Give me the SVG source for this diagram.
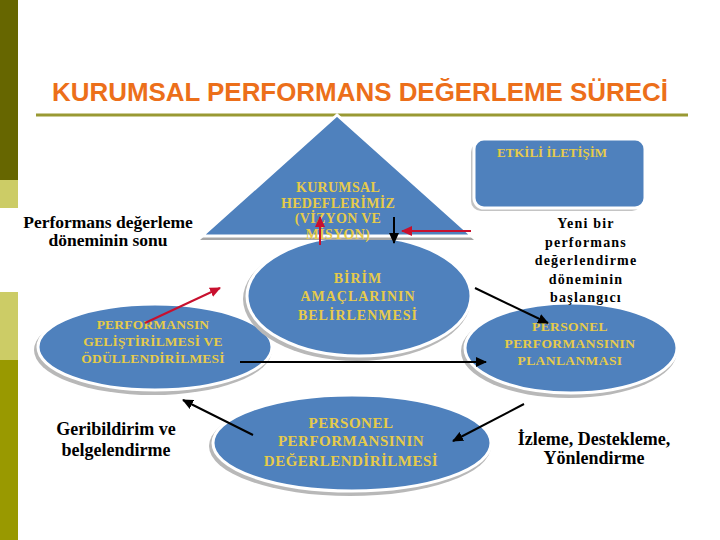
<svg xmlns="http://www.w3.org/2000/svg" width="720" height="540" viewBox="0 0 720 540">
<defs>
<style>
.shape{fill:#4f81bd;stroke:#ffffff;stroke-width:3}
.shadow{fill:#b8b8b8}
.lbl{font-family:"Liberation Serif","Times New Roman",serif;font-weight:bold;fill:#e6cb4a;text-anchor:middle}
.free{font-family:"Liberation Serif","Times New Roman",serif;font-weight:bold;fill:#000000;text-anchor:middle}
.blk{stroke:#000000;stroke-width:2;fill:none}
.red{stroke:#c8102e;stroke-width:2;fill:none}
</style>
<marker id="ahb" markerUnits="userSpaceOnUse" markerWidth="12" markerHeight="10" refX="10" refY="5" orient="auto"><path d="M0,0 L11,5 L0,10 z" fill="#000000"/></marker>
<marker id="ahr" markerUnits="userSpaceOnUse" markerWidth="12" markerHeight="10" refX="10" refY="5" orient="auto"><path d="M0,0 L11,5 L0,10 z" fill="#c8102e"/></marker>
</defs>
<rect width="720" height="540" fill="#ffffff"/>
<g id="sidebar">
<rect x="0" y="0" width="18" height="180" fill="#666600"/>
<rect x="0" y="180" width="18" height="28" fill="#cccc66"/>
<rect x="0" y="292" width="18" height="68" fill="#cccc66"/>
<rect x="0" y="360" width="18" height="180" fill="#999900"/>
</g>
<g id="title">
<text x="52" y="101" font-family="'Liberation Sans',Arial,sans-serif" font-weight="bold" font-size="25" fill="#ec6f1a" textLength="616" lengthAdjust="spacingAndGlyphs">KURUMSAL PERFORMANS DEĞERLEME SÜRECİ</text>
<line x1="36" y1="115" x2="688" y2="115" stroke="#999933" stroke-width="3"/>
</g>
<g id="gelistirme">
<ellipse class="shadow" cx="153" cy="350" rx="119" ry="45"/>
<ellipse class="shape" cx="155" cy="347" rx="117" ry="43"/>
</g>
<g id="planlama">
<ellipse class="shadow" cx="569" cy="351" rx="108" ry="47"/>
<ellipse class="shape" cx="571" cy="348" rx="106" ry="45"/>
</g>
<g id="degerlendirme">
<ellipse class="shadow" cx="350" cy="446" rx="141" ry="50"/>
<ellipse class="shape" cx="352" cy="443" rx="139" ry="48"/>
</g>
<g id="birim">
<ellipse class="shadow" cx="357" cy="299" rx="114" ry="62"/>
<ellipse class="shape" cx="359" cy="296" rx="112" ry="60"/>
</g>
<g id="hedefler">
<polygon points="337,118 200,240 474,240" fill="#a6a6a6"/>
<polygon points="337,115 202,236 472,236" class="shape"/>
</g>
<g id="iletisim">
<rect x="471" y="142" width="171" height="69" rx="10" fill="#c4c4c4"/>
<rect x="474" y="139" width="171" height="69" rx="10" class="shape"/>
</g>
<g id="labels">
<text class="lbl" x="552" y="157" font-size="13">ETKİLİ İLETİŞİM</text>
<text class="lbl" font-size="14" letter-spacing="0.3"><tspan x="338" y="192">KURUMSAL</tspan><tspan x="338" y="208">HEDEFLERİMİZ</tspan><tspan x="338" y="223">(VİZYON VE</tspan><tspan x="338" y="239">MİSYON)</tspan></text>
<text class="lbl" font-size="14" letter-spacing="1"><tspan x="358" y="283">BİRİM</tspan><tspan x="358" y="301">AMAÇLARININ</tspan><tspan x="358" y="320">BELİRLENMESİ</tspan></text>
<text class="lbl" font-size="13.5" letter-spacing="0.2"><tspan x="153" y="329">PERFORMANSIN</tspan><tspan x="153" y="346">GELİŞTİRİLMESİ VE</tspan><tspan x="153" y="363">ÖDÜLLENDİRİLMESİ</tspan></text>
<text class="lbl" font-size="13.5" letter-spacing="0.4"><tspan x="570" y="331">PERSONEL</tspan><tspan x="570" y="348">PERFORMANSININ</tspan><tspan x="570" y="365">PLANLANMASI</tspan></text>
<text class="lbl" font-size="15" letter-spacing="0.5"><tspan x="351" y="428">PERSONEL</tspan><tspan x="351" y="446">PERFORMANSININ</tspan><tspan x="351" y="466">DEĞERLENDİRİLMESİ</tspan></text>
<text class="free" font-size="17.5"><tspan x="108" y="228">Performans değerleme</tspan><tspan x="108" y="246">döneminin sonu</tspan></text>
<text class="free" font-size="18"><tspan x="116" y="435">Geribildirim ve</tspan><tspan x="116" y="456">belgelendirme</tspan></text>
<text class="free" font-size="14" letter-spacing="1.2"><tspan x="586" y="228">Yeni bir</tspan><tspan x="586" y="247">performans</tspan><tspan x="586" y="265">değerlendirme</tspan><tspan x="586" y="284">döneminin</tspan><tspan x="586" y="302">başlangıcı</tspan></text>
<text class="free" font-size="18"><tspan x="594" y="445">İzleme, Destekleme,</tspan><tspan x="594" y="464">Yönlendirme</tspan></text>
</g>
<g id="connectors">
<line class="red" x1="145" y1="323" x2="220" y2="288" marker-end="url(#ahr)"/>
<line class="red" x1="320" y1="245" x2="320" y2="217" marker-end="url(#ahr)"/>
<line class="red" x1="471" y1="231" x2="402" y2="231" marker-end="url(#ahr)"/>
<line class="blk" x1="394" y1="217" x2="394" y2="243" marker-end="url(#ahb)"/>
<line class="blk" x1="240" y1="362" x2="486" y2="362" marker-end="url(#ahb)"/>
<line class="blk" x1="475" y1="288" x2="548" y2="323" marker-end="url(#ahb)"/>
<line class="blk" x1="524" y1="404" x2="453" y2="441" marker-end="url(#ahb)"/>
<line class="blk" x1="253" y1="435" x2="183" y2="400" marker-end="url(#ahb)"/>
</g>
</svg>
